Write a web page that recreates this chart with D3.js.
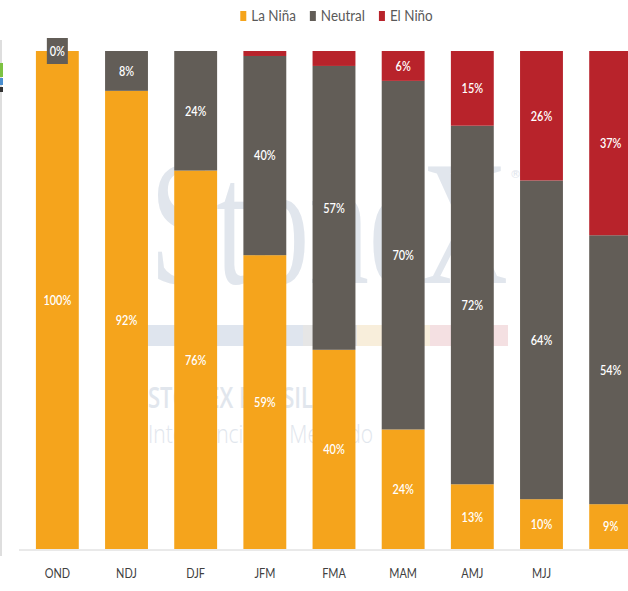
<!DOCTYPE html>
<html>
<head>
<meta charset="utf-8">
<script src="https://cdn.jsdelivr.net/npm/d3@7"></script>
<style>
  html, body { margin: 0; padding: 0; background: #ffffff; }
  svg { display: block; }
</style>
</head>
<body>
<svg id="chart" width="628" height="591"></svg>
<script>
// ENSO probability outlook by overlapping three-month season
const categories = ["OND", "NDJ", "DJF", "JFM", "FMA", "MAM", "AMJ", "MJJ", "JJA"];
const tickLabels = ["OND", "NDJ", "DJF", "JFM", "FMA", "MAM", "AMJ", "MJJ", ""];
const laNina  = [100, 92, 76, 59, 40, 24, 13, 10, 9];
const neutral = [0, 8, 24, 40, 57, 70, 72, 64, 54];
const elNino  = [0, 0, 0, 1, 3, 6, 15, 26, 37];
const seriesNames = ["La Niña", "Neutral", "El Niño"];
const seriesKeys = ["lanina", "neutral", "elnino"];
const seriesColors = ["#f5a41c", "#625d57", "#b8232b"];

const W = 628, H = 591;
const svg = d3.select("#chart");
const font = "Lato, 'Open Sans', sans-serif";
const narrow = 0.84;

const rows = categories.map((c, i) => ({
  cat: c, lanina: laNina[i], neutral: neutral[i], elnino: elNino[i]
}));

const x = d3.scaleBand()
  .domain(categories)
  .range([20, 648])
  .paddingInner(0.38)
  .paddingOuter(0.23);

const y = d3.scaleLinear().domain([0, 100]).range([549, 51]);

const color = d3.scaleOrdinal().domain(seriesKeys).range(seriesColors);

// faint frame line on the far left
svg.append("line")
  .attr("x1", 1).attr("x2", 1).attr("y1", 40).attr("y2", 556)
  .attr("stroke", "#dedede").attr("stroke-width", 2);
svg.append("rect").attr("x", 0).attr("y", 63).attr("width", 3).attr("height", 14).attr("fill", "#7dc242");
svg.append("rect").attr("x", 0).attr("y", 78).attr("width", 3).attr("height", 7).attr("fill", "#4a8fd0");
svg.append("rect").attr("x", 0).attr("y", 87).attr("width", 3).attr("height", 5).attr("fill", "#333333");

// background watermark
const wm = svg.append("g").attr("fill", "#e1e6ed");
wm.append("text")
  .attr("x", 150).attr("y", 283)
  .attr("font-family", "'Liberation Serif', 'DejaVu Serif', serif")
  .attr("font-size", 178)
  .attr("textLength", 358).attr("lengthAdjust", "spacingAndGlyphs")
  .text("StoneX");
wm.append("text")
  .attr("x", 510).attr("y", 178)
  .attr("font-family", "'DejaVu Sans', sans-serif")
  .attr("font-size", 11)
  .text("®");
const stripe = [["#dfe5ee", 148, 303], ["#e6e6e6", 303, 357], ["#f8eedb", 357, 430], ["#f4e0e2", 430, 508]];
stripe.forEach(s => {
  wm.append("rect").attr("x", s[1]).attr("y", 325).attr("width", s[2] - s[1]).attr("height", 21).attr("fill", s[0]);
});
wm.append("text")
  .attr("x", 148).attr("y", 408)
  .attr("font-family", "'Open Sans', 'Noto Sans', sans-serif")
  .attr("font-size", 28).attr("font-weight", 600)
  .attr("textLength", 165).attr("lengthAdjust", "spacingAndGlyphs")
  .text("STONEX BRASIL");
wm.append("text")
  .attr("x", 148).attr("y", 443)
  .attr("font-family", "'Open Sans', 'Noto Sans', sans-serif")
  .attr("font-size", 26).attr("font-weight", 300)
  .attr("textLength", 225).attr("lengthAdjust", "spacingAndGlyphs")
  .text("Inteligência de Mercado");

// stacked bars
const stacked = d3.stack().keys(seriesKeys)(rows);

const layers = svg.append("g").selectAll("g")
  .data(stacked)
  .join("g")
  .attr("fill", d => color(d.key));

layers.selectAll("rect")
  .data(d => d)
  .join("rect")
  .attr("x", d => x(d.data.cat))
  .attr("width", x.bandwidth())
  .attr("y", d => y(d[1]))
  .attr("height", d => y(d[0]) - y(d[1]));

// axis baseline
svg.append("line")
  .attr("x1", 19).attr("x2", W).attr("y1", 550).attr("y2", 550)
  .attr("stroke", "#d4d4d4").attr("stroke-width", 1);

// category axis
const xAxis = svg.append("g")
  .attr("transform", "translate(0,550)")
  .call(d3.axisBottom(x).tickSize(0).tickPadding(19)
    .tickFormat((d, i) => tickLabels[i]));
xAxis.select(".domain").remove();
xAxis.selectAll("text")
  .attr("font-family", font)
  .attr("font-size", 13)
  .attr("fill", "#404040")
  .attr("transform", `scale(${narrow},1)`);

// value labels
const labels = svg.append("g");
stacked.forEach(layer => {
  layer.forEach(d => {
    const v = d[1] - d[0];
    const key = layer.key;
    if (key === "elnino" && v < 5) return;
    const cx = x(d.data.cat) + x.bandwidth() / 2;
    const cy = (y(d[0]) + y(d[1])) / 2;
    const segH = y(d[0]) - y(d[1]);
    if (segH < 16) {
      labels.append("rect")
        .attr("x", cx - 10.5).attr("y", cy - 13)
        .attr("width", 21).attr("height", 26)
        .attr("fill", color(key));
    }
    labels.append("text")
      .attr("transform", `translate(${cx},${cy}) scale(${narrow},1)`)
      .attr("text-anchor", "middle")
      .attr("dominant-baseline", "central")
      .attr("font-family", font)
      .attr("font-size", 13)
      .attr("font-weight", 600)
      .attr("fill", "#ffffff")
      .text(v + "%");
  });
});

// legend
const legend = svg.append("g");
let lx = 0;
seriesNames.forEach((name, i) => {
  const g = legend.append("g").attr("transform", `translate(${lx},0)`);
  g.append("rect").attr("x", 0).attr("y", 11).attr("width", 6).attr("height", 10)
    .attr("fill", seriesColors[i]);
  const t = g.append("text")
    .attr("transform", `translate(11,21) scale(${narrow},1)`)
    .attr("font-family", font)
    .attr("font-size", 16)
    .attr("fill", "#595959")
    .text(name);
  lx += 11 + t.node().getComputedTextLength() * narrow + 14;
});
const legendW = lx - 14;
legend.attr("transform", `translate(${336.5 - legendW / 2},0)`);
</script>
</body>
</html>
